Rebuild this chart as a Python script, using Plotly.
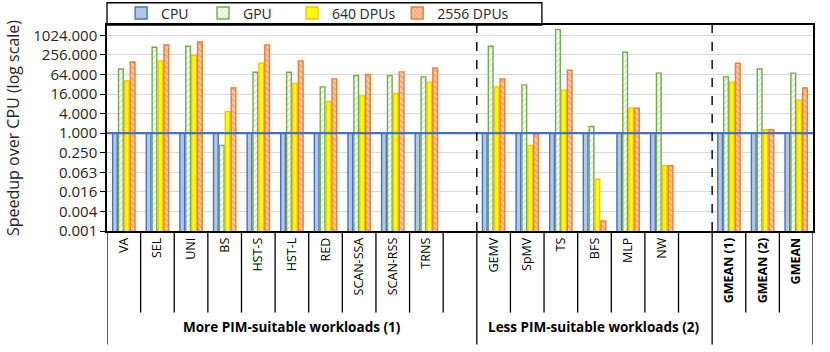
import plotly.graph_objects as go
from decimal import Decimal, ROUND_HALF_UP

# ---------------- data ----------------
categories = ["VA", "SEL", "UNI", "BS", "HST-S", "HST-L", "RED", "SCAN-SSA", "SCAN-RSS", "TRNS", " ",
              "GEMV", "SpMV", "TS", "BFS", "MLP", "NW", "  ",
              "<b>GMEAN (1)</b>", "<b>GMEAN (2)</b>", "<b>GMEAN</b>"]
cpu = [1, 1, 1, 1, 1, 1, 1, 1, 1, 1, None, 1, 1, 1, 1, 1, 1, None, 1, 1, 1]
gpu = [94, 438, 470, 0.42, 75, 75, 26.5, 59, 59, 54, None,
       470, 30.5, 1530, 1.6, 308, 70, None, 54, 94, 70]
dpu640 = [40, 167, 249, 4.6, 141, 33.6, 9.4, 14, 16.5, 37, None,
          26.5, 0.42, 21, 0.038, 5.9, 0.099, None, 37, 1.27, 10.3]
dpu2556 = [155, 517, 639, 24.7, 517, 167, 46.6, 63.5, 76.6, 102, None,
           46.6, 0.93, 86, 0.002, 5.9, 0.099, None, 141, 1.27, 24.7]
series_names = ["CPU", "GPU", "640 DPUs", "2556 DPUs"]
tick_values = [4 ** k for k in range(-5, 6)]
tick_labels = [str(Decimal(repr(float(v))).quantize(Decimal("0.001"), rounding=ROUND_HALF_UP))
               for v in tick_values]
group_labels = ["More PIM-suitable workloads (1)", "Less PIM-suitable workloads (2)"]
group_spans = [(0, 10), (11, 17)]
dashed_after = [10, 17]
baseline = 1.0

FONT = "Open Sans, Liberation Sans, sans-serif"

fig = go.Figure()

styles = [
    dict(color="#B4C7E7", line=dict(color="#4472C4", width=1.4)),
    dict(color="#A9D18E", line=dict(color="#70AD47", width=1.4),
         pattern=dict(shape="/", fgcolor="#A9D18E", bgcolor="white", size=4, solidity=0.45)),
    dict(color="#FFFF00", line=dict(color="#FFC000", width=1.4)),
    dict(color="#ED7D31", line=dict(color="#ED7D31", width=1.4),
         pattern=dict(shape="\\", fgcolor="#ED7D31", bgcolor="#F8CBAD", size=4, solidity=0.45)),
]
legend_ids = ["legend", "legend2", "legend3", "legend4"]
for name, vals, st, lg in zip(series_names, [cpu, gpu, dpu640, dpu2556], styles, legend_ids):
    fig.add_trace(go.Bar(x=categories, y=vals, name=name, marker=st, legend=lg, showlegend=True))

# legends placed individually
legend_x = [0.02, 0.136, 0.262, 0.411]
leg_common = dict(orientation="h", yanchor="middle", y=1.056, xanchor="left",
                  bgcolor="rgba(0,0,0,0)", font=dict(family=FONT, size=14, color="#262626"))
fig.update_layout(
    showlegend=True,
    legend=dict(x=legend_x[0], **leg_common),
    legend2=dict(x=legend_x[1], **leg_common),
    legend3=dict(x=legend_x[2], **leg_common),
    legend4=dict(x=legend_x[3], **leg_common),
)

shapes = []
# legend box
shapes.append(dict(type="rect", xref="paper", yref="paper", x0=0, x1=0.616, y0=1, y1=1.108,
                   line=dict(color="black", width=1.3), fillcolor="rgba(0,0,0,0)"))
# baseline at 1.0
shapes.append(dict(type="line", xref="paper", yref="y", x0=0, x1=1, y0=baseline, y1=baseline,
                   line=dict(color="#4472C4", width=2.2), layer="above"))
# dashed separators
for d in dashed_after:
    shapes.append(dict(type="line", xref="x", yref="paper", x0=d + 0.5, x1=d + 0.5, y0=0, y1=1,
                       line=dict(color="black", width=1.4, dash="dash")))
# category separators below axis
n = len(categories)
long_edges = {-0.5, n - 0.5} | {d + 0.5 for d in dashed_after}
for i in range(n + 1):
    b = i - 0.5
    y1 = -0.551 if b in long_edges else -0.396
    shapes.append(dict(type="line", xref="x", yref="paper", x0=b, x1=b, y0=0, y1=y1,
                       line=dict(color="black", width=1.3)))

annotations = []
for lab, (s, e) in zip(group_labels, group_spans):
    annotations.append(dict(text="<b>" + lab + "</b>", xref="x", yref="paper",
                            x=(s + e) / 2, y=-0.52, showarrow=False,
                            font=dict(family=FONT, size=13.5, color="black")))

fig.update_layout(
    width=830, height=352,
    margin=dict(l=107, r=17, t=25, b=121, autoexpand=False),
    paper_bgcolor="white", plot_bgcolor="white",
    barmode="group", bargap=0.3, bargroupgap=0.2,
    shapes=shapes, annotations=annotations,
    xaxis=dict(type="category", tickangle=-90, showgrid=False, ticks="", automargin=False,
               showline=True, linecolor="black", linewidth=1.5, mirror=True,
               tickfont=dict(family=FONT, size=12.5, color="black"),
               range=[-0.5, n - 0.5]),
    yaxis=dict(type="log", range=[-3.0103, 3.3268], tickvals=tick_values, ticktext=tick_labels,
               automargin=False,
               showgrid=True, gridcolor="#D9D9D9", gridwidth=1,
               ticks="outside", ticklen=5, tickcolor="black",
               showline=True, linecolor="black", linewidth=1.5, mirror=True,
               tickfont=dict(family=FONT, size=15, color="#262626"),
               title=dict(text="Speedup over CPU (log scale)", standoff=10,
                          font=dict(family=FONT, size=16, color="#262626"))),
)

fig.write_html("out.html", config={"displayModeBar": False},
               post_script="document.body.style.margin='0';")
